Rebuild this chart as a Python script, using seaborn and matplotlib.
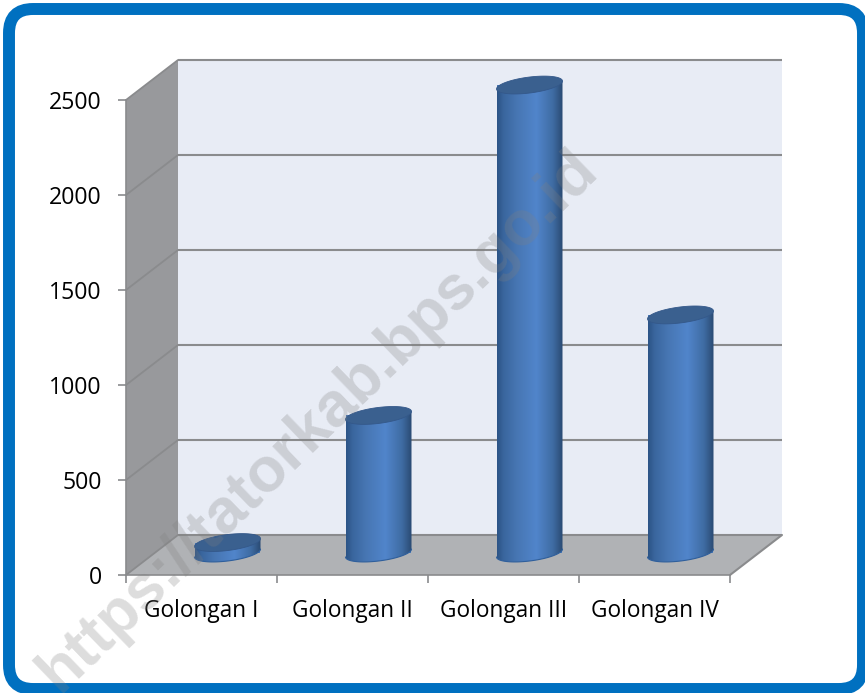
import numpy as np
import matplotlib
matplotlib.use("Agg")
import matplotlib.pyplot as plt
from matplotlib.colors import LinearSegmentedColormap
from matplotlib.patches import FancyBboxPatch, Polygon
from matplotlib.transforms import Affine2D, IdentityTransform
import seaborn as sns

categories = ["Golongan I", "Golongan II", "Golongan III", "Golongan IV"]
values = [55, 724, 2463, 1253]
y_ticks = [0, 500, 1000, 1500, 2000, 2500]

W, H = 865, 693
DEPTH_X, DEPTH_Y = 52, 40
GRID = "#8a8b8d"

sns.set_theme(style="white")
plt.rcParams["font.family"] = ["Open Sans", "DejaVu Sans"]

fig = plt.figure(figsize=(W / 100, H / 100), dpi=100, facecolor="white")
ax = fig.add_axes([126 / W, (H - 575) / H, 604 / W, 475 / H])
ax.patch.set_alpha(0)

sns.barplot(x=categories, y=values, color="#4a7ab8", saturation=1, width=0.437, ax=ax, zorder=3)
ax.set_xlim(-0.5, 3.5)
ax.set_ylim(0, 2500)
ax.set_autoscale_on(False)

pixel = IdentityTransform()
back = ax.transData + Affine2D().translate(DEPTH_X, DEPTH_Y)
middle = ax.transData + Affine2D().translate(DEPTH_X / 2, DEPTH_Y * 0.55)


def to_px(x, y):
    return ax.transData.transform((x, y))


# chart box: back wall, side wall, floor
fl, fr = to_px(-0.5, 0), to_px(3.5, 0)
tl = to_px(-0.5, 2500)
d = np.array([DEPTH_X, DEPTH_Y])
ax.add_patch(Polygon([fl + d, fr + d, np.array([fr[0], tl[1]]) + d, tl + d], color="#e8ecf5",
                     transform=pixel, zorder=0, clip_on=False, lw=0))
ax.add_patch(Polygon([fl, fl + d, tl + d, tl], color="#98999c", transform=pixel, zorder=1,
                     clip_on=False, lw=0))
ax.add_patch(Polygon([fl, fr, fr + d, fl + d], color="#b0b2b5", transform=pixel, zorder=1,
                     clip_on=False, lw=0))
ax.plot([fr[0], fr[0] + DEPTH_X], [fr[1], fr[1] + DEPTH_Y], color=GRID, lw=1.5,
        transform=pixel, clip_on=False, zorder=2)

for t in y_ticks:
    p = to_px(-0.5, t)
    ax.plot([p[0], p[0] + DEPTH_X], [p[1], p[1] + DEPTH_Y], color=GRID, lw=1.3,
            transform=pixel, clip_on=False, zorder=2)
    ax.plot([-0.5, 3.5], [t, t], color=GRID, lw=1.5, transform=back, clip_on=False, zorder=2,
            solid_capstyle="butt")

# cylinders on top of the seaborn bars
shade = LinearSegmentedColormap.from_list(
    "cyl", [(0, "#2c5486"), (0.1, "#3a669e"), (0.3, "#4776b3"), (0.6, "#5185cb"),
            (0.85, "#3f6ca3"), (1, "#2a4a73")]
)
grad = np.linspace(0, 1, 200).reshape(1, -1)
t_low = np.linspace(np.pi, 2 * np.pi, 60)
t_all = np.linspace(0, 2 * np.pi, 100)
SHEAR = 0.12
B = 8

for bar in ax.containers[0]:
    bar.set_transform(middle)
    bar.set_clip_on(False)
    bar.set_linewidth(0)
    x0 = bar.get_x()
    x1 = x0 + bar.get_width()
    top = bar.get_height()
    cx, base_y = middle.transform((x0 + bar.get_width() / 2, 0))
    left_px = middle.transform((x0, 0))[0]
    right_px = middle.transform((x1, 0))[0]
    a = (right_px - left_px) / 2
    top_y = middle.transform((x0, top))[1]

    low_x = cx + a * np.cos(t_low)
    low_y = base_y + B * np.sin(t_low) + SHEAR * a * np.cos(t_low)
    outline = np.vstack([
        [[left_px, top_y - SHEAR * a]],
        np.column_stack([low_x, low_y]),
        [[right_px, top_y + SHEAR * a]],
        [[left_px, top_y - SHEAR * a]],
    ])
    body = Polygon(outline, transform=pixel, facecolor="none", edgecolor="none")
    ax.add_patch(body)
    im = ax.imshow(grad, cmap=shade, aspect="auto", extent=(x0, x1, -100, top + 100),
                   transform=middle, zorder=4, interpolation="bilinear")
    im.set_clip_box(fig.bbox)
    im.set_clip_path(body)

    cap_x = cx + a * np.cos(t_all)
    cap_y = top_y + B * np.sin(t_all) + SHEAR * a * np.cos(t_all)
    ax.add_patch(Polygon(np.column_stack([cap_x, cap_y]), transform=pixel, facecolor="#3a608f",
                         edgecolor="#34588a", lw=0.6, zorder=5, clip_on=False))
    ax.plot(low_x, low_y, color="#2f5f9c", lw=0.8, transform=pixel, clip_on=False, zorder=5)

ax.set_xlim(-0.5, 3.5)
ax.set_ylim(0, 2500)
ax.set_yticks(y_ticks)
ax.set_xticks(range(len(categories)))
ax.set_xticklabels(categories)
ax.set_xticks(np.arange(-0.5, 4), minor=True)
ax.tick_params(axis="x", which="major", length=0, pad=17, labelsize=16.3, labelcolor="black")
ax.tick_params(axis="x", which="minor", length=6, width=1.2, color=GRID, bottom=True)
ax.tick_params(axis="y", length=5.5, width=1.2, color=GRID, left=True, pad=12, labelsize=16.7,
               labelcolor="black")
for s in ["top", "right"]:
    ax.spines[s].set_visible(False)
for s in ["left", "bottom"]:
    ax.spines[s].set_color(GRID)
    ax.spines[s].set_linewidth(1.2)
    ax.spines[s].set_zorder(2.5)

# rounded blue frame
fig.add_artist(FancyBboxPatch((9, 4), 854, 680, boxstyle="round,pad=0,rounding_size=24",
                              facecolor="white", edgecolor="#0070c0", lw=8.6,
                              transform=pixel, zorder=-1))

# BPS watermark
fig.text(318 / W, (H - 421) / H, "https://tatorkab.bps.go.id", rotation=44, rotation_mode="anchor",
         ha="center", va="center", fontsize=45, fontweight="bold", family="Liberation Sans",
         color="#808080", alpha=0.27, zorder=10)

fig.savefig("out.png", dpi=100)
